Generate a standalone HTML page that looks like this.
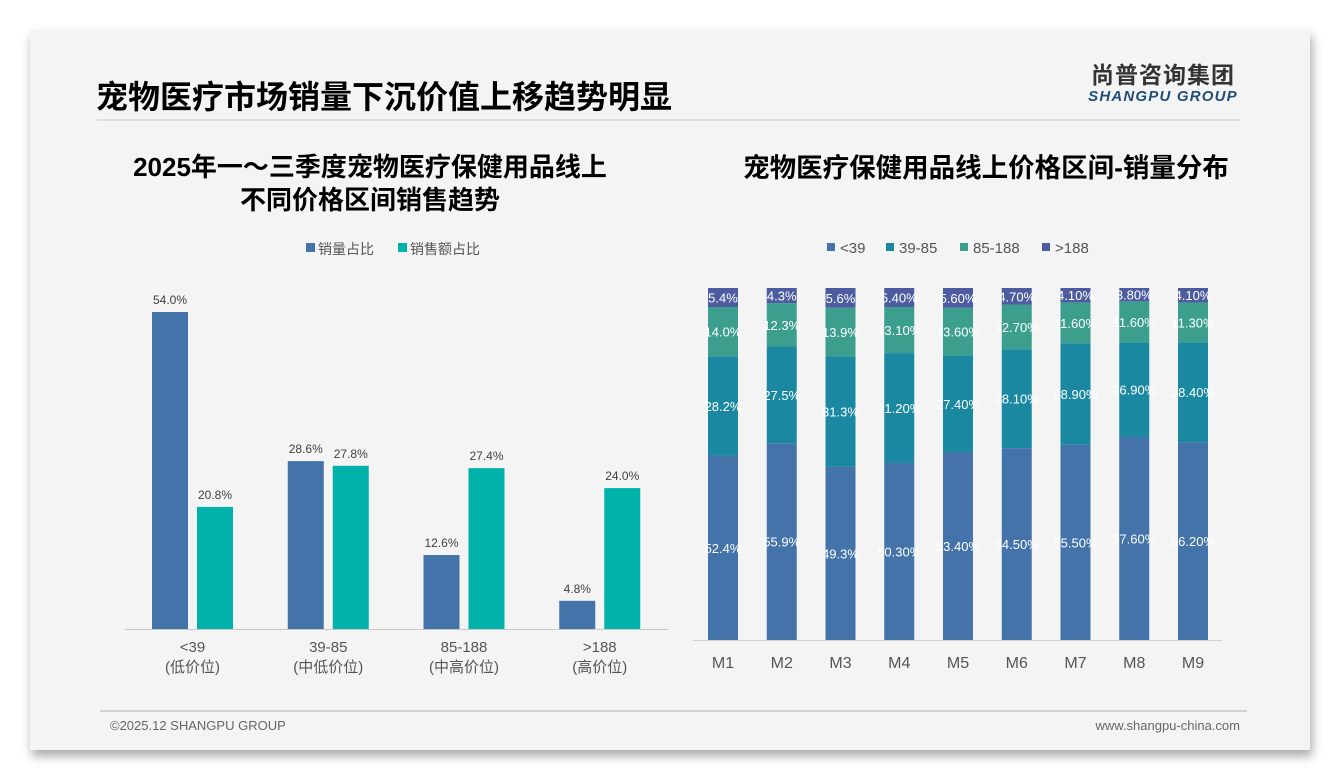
<!DOCTYPE html>
<html><head><meta charset="utf-8">
<style>
body{margin:0;width:1340px;height:780px;background:#fff;overflow:hidden;font-family:"Liberation Sans","Noto Sans CJK SC",sans-serif;}
#slide{position:absolute;left:30px;top:30px;width:1280px;height:720px;background:#f4f4f4;box-shadow:2px 6px 10px rgba(0,0,0,0.35);}
svg text{font-family:"Liberation Sans","Noto Sans CJK SC",sans-serif;}
</style></head><body>
<div id="slide"></div>
<svg id="chart" width="1340" height="780" style="position:absolute;left:0;top:0">
<text x="96" y="108" font-size="32" font-weight="bold" fill="#000">宠物医疗市场销量下沉价值上移趋势明显</text>
<line x1="97" y1="120" x2="1240" y2="120" stroke="#d8d8d8" stroke-width="1.5"/>
<text x="1163" y="83" font-size="23" font-weight="bold" fill="#333" text-anchor="middle" letter-spacing="1">尚普咨询集团</text>
<text x="1163" y="101" font-size="15" font-weight="bold" font-style="italic" fill="#1f4e79" text-anchor="middle" letter-spacing="1.2">SHANGPU GROUP</text>
<text x="370" y="176" font-size="26" font-weight="bold" fill="#000" text-anchor="middle">2025年一～三季度宠物医疗保健用品线上</text>
<text x="370" y="209" font-size="26" font-weight="bold" fill="#000" text-anchor="middle">不同价格区间销售趋势</text>
<text x="986" y="177" font-size="26.5" font-weight="bold" fill="#000" text-anchor="middle">宠物医疗保健用品线上价格区间-销量分布</text>
<g id="left"></g>
<g id="right"></g>
<line x1="100" y1="711" x2="1247" y2="711" stroke="#b8c8d8" stroke-width="1.5"/>
<text x="110" y="730" font-size="13" fill="#666">©2025.12 SHANGPU GROUP</text>
<text x="1240" y="730" font-size="13" fill="#666" text-anchor="end">www.shangpu-china.com</text>
</svg>
<script>
const leftCats=["<39","39-85","85-188",">188"];
const leftSub=["(低价位)","(中低价位)","(中高价位)","(高价位)"];
const volShare=[54.0,28.6,12.6,4.8];
const salesShare=[20.8,27.8,27.4,24.0];

const months=["M1","M2","M3","M4","M5","M6","M7","M8","M9"];
const s39=[52.4,55.9,49.3,50.3,53.4,54.5,55.5,57.6,56.2];
const s3985=[28.2,27.5,31.3,31.2,27.4,28.1,28.9,26.9,28.4];
const s85188=[14.0,12.3,13.9,13.1,13.6,12.7,11.6,11.6,11.3];
const s188=[5.4,4.3,5.6,5.4,5.6,4.7,4.1,3.8,4.1];
const rightLabels=[
 ["52.4%","55.9%","49.3%","50.30%","53.40%","54.50%","55.50%","57.60%","56.20%"],
 ["28.2%","27.5%","31.3%","31.20%","27.40%","28.10%","28.90%","26.90%","28.40%"],
 ["14.0%","12.3%","13.9%","13.10%","13.60%","12.70%","11.60%","11.60%","11.30%"],
 ["5.4%","4.3%","5.6%","5.40%","5.60%","4.70%","4.10%","3.80%","4.10%"]];

const NS="http://www.w3.org/2000/svg";
function mk(parent,tag,attrs,txt){const e=document.createElementNS(NS,tag);for(const k in attrs)e.setAttribute(k,attrs[k]);if(txt!==undefined)e.textContent=txt;parent.appendChild(e);return e;}

const L=document.getElementById('left');
const lBase=629, lScale=317/54;
const lY=v=>lBase-v*lScale;
const lGroupX=i=>125+i*135.75;
const blue="#4373a9", teal="#00b2a9";
let e=mk(L,'rect',{x:306,y:243,width:9,height:9,fill:blue});

e=mk(L,'text',{x:318,y:254,'font-size':14,fill:'#555'},'销量占比');

e=mk(L,'rect',{x:398,y:243,width:9,height:9,fill:teal});

e=mk(L,'text',{x:410,y:254,'font-size':14,fill:'#555'},'销售额占比');

leftCats.forEach((c,i)=>{
  const gx=lGroupX(i);
  const x1=gx+27, x2=gx+72;
  let r=mk(L,'rect',{x:x1,y:lY(volShare[i]),width:36,height:volShare[i]*lScale,fill:blue});
  
  let t=mk(L,'text',{x:x1+18,y:lY(volShare[i])-8,'font-size':12,fill:'#404040','text-anchor':'middle'},volShare[i].toFixed(1)+'%');
  
  r=mk(L,'rect',{x:x2,y:lY(salesShare[i]),width:36,height:salesShare[i]*lScale,fill:teal});
  
  t=mk(L,'text',{x:x2+18,y:lY(salesShare[i])-8,'font-size':12,fill:'#404040','text-anchor':'middle'},salesShare[i].toFixed(1)+'%');
  
  t=mk(L,'text',{x:gx+67.5,y:652,'font-size':15,fill:'#555','text-anchor':'middle'},c);
  
  t=mk(L,'text',{x:gx+67.5,y:672,'font-size':15,fill:'#555','text-anchor':'middle'},leftSub[i]);
  
});
e=mk(L,'line',{x1:125,y1:629.5,x2:668,y2:629.5,stroke:'#c8c8c8'});


const R=document.getElementById('right');
const rBase=640, rH=352;
const rX=i=>723+i*58.75;
const series=[s39,s3985,s85188,s188];
const rColors=["#4373a9","#1a88a1","#3c9f8e","#4d5ca0"];
const rNames=["<39","39-85","85-188",">188"];
const legX=[827,886,960,1042];
rNames.forEach((n,k)=>{
  let s=mk(R,'rect',{x:legX[k],y:243,width:8,height:8,fill:rColors[k]});
  
  let t=mk(R,'text',{x:legX[k]+13,y:253,'font-size':15,fill:'#555'},n);
  
});
months.forEach((m,i)=>{
  const tot=series.reduce((a,s)=>a+s[i],0);
  let acc=0;
  series.forEach((s,k)=>{
    const h=s[i]/tot*rH;
    const y=rBase-acc-h;
    let r=mk(R,'rect',{x:rX(i)-15,y:y,width:30,height:h,fill:rColors[k]});
    
    let t=mk(R,'text',{x:rX(i),y:y+h/2+5,'font-size':13,fill:'#fff','text-anchor':'middle'},rightLabels[k][i]);
    
    acc+=h;
  });
  let t=mk(R,'text',{x:rX(i),y:668,'font-size':16,fill:'#555','text-anchor':'middle'},m);
  
});
e=mk(R,'line',{x1:693,y1:640.5,x2:1222,y2:640.5,stroke:'#d0d0d0'});

</script>
</body></html>
